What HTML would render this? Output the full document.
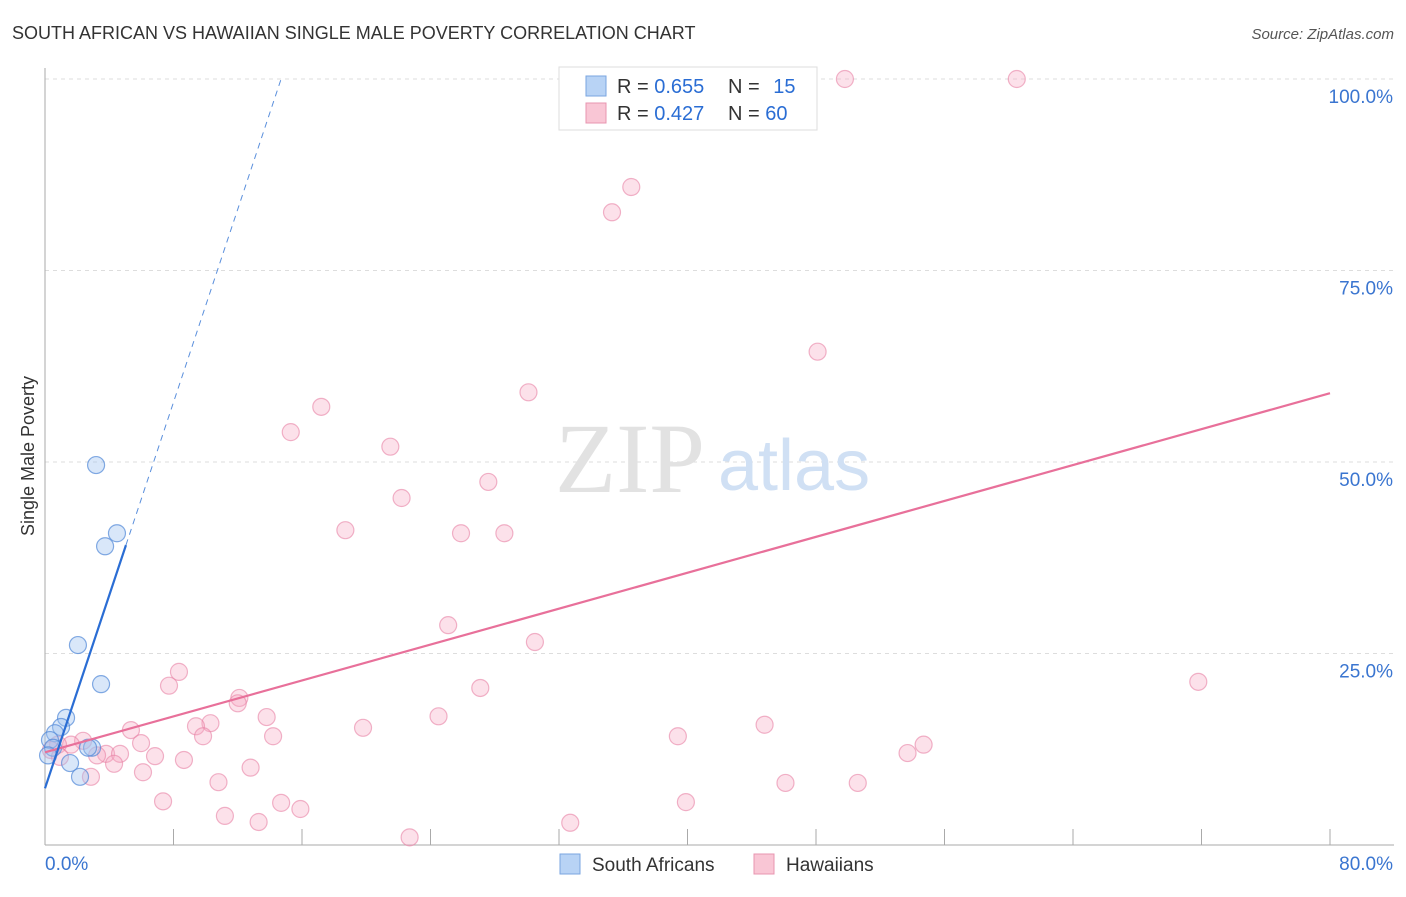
<!DOCTYPE html>
<html><head><meta charset="utf-8"><style>
body{margin:0;background:#fff;font-family:"Liberation Sans",sans-serif;}
svg text{font-family:"Liberation Sans",sans-serif;}
</style></head><body>
<svg width="1406" height="892" id="chart">
<text x="12" y="39" font-size="18" fill="#333">SOUTH AFRICAN VS HAWAIIAN SINGLE MALE POVERTY CORRELATION CHART</text>
<text x="1394" y="39" font-size="15" fill="#555" font-style="italic" text-anchor="end">Source: ZipAtlas.com</text>
<g id="grid"></g>
<text x="555" y="492" font-size="100" fill="#e2e2e2" style="font-family:'Liberation Serif',serif">ZIP</text>
<text x="718" y="490" font-size="72" fill="#d0e0f4">atlas</text>
<g id="axes"></g>
<g id="marks"></g>
<text x="34" y="456" font-size="18" fill="#333" text-anchor="middle" transform="rotate(-90 34 456)">Single Male Poverty</text>
<g>
<rect x="559" y="67" width="258" height="63" fill="#fff" stroke="#ddd"/>
<rect x="586" y="76" width="20" height="20" fill="#b8d3f5" stroke="#7aa6e0"/>
<rect x="586" y="103" width="20" height="20" fill="#f9c6d5" stroke="#e895b0"/>
<text x="617" y="93" font-size="20" fill="#333">R = <tspan fill="#2a6dd4">0.655</tspan></text>
<text x="728" y="93" font-size="20" fill="#333">N = <tspan fill="#2a6dd4" dx="8">15</tspan></text>
<text x="617" y="120" font-size="20" fill="#333">R = <tspan fill="#2a6dd4">0.427</tspan></text>
<text x="728" y="120" font-size="20" fill="#333">N = <tspan fill="#2a6dd4">60</tspan></text>
</g>
<g>
<rect x="560" y="854" width="20" height="20" fill="#b8d3f5" stroke="#7aa6e0"/>
<text x="592" y="871" font-size="19" fill="#333">South Africans</text>
<rect x="754" y="854" width="20" height="20" fill="#f9c6d5" stroke="#e895b0"/>
<text x="786" y="871" font-size="19" fill="#333">Hawaiians</text>
</g>
</svg>
<script>
const yTicks=[25,50,75,100];
const yTickLabels=["25.0%","50.0%","75.0%","100.0%"];
const xTicks=[0,8,16,24,32,40,48,56,64,72,80];
const saX=[3.18,3.74,4.48,2.05,3.49,1.31,1.0,0.62,0.31,0.5,1.56,2.18,2.93,2.68,0.19];
const saY=[49.6,39.0,40.7,26.1,21.0,16.6,15.4,14.6,13.7,12.7,10.7,8.9,12.7,12.7,11.7];
const hwX=[49.8,60.5,36.5,35.3,48.1,30.1,17.2,15.3,21.5,27.6,22.2,18.7,25.9,28.6,25.1,30.5,27.1,71.8,8.34,7.72,12.1,12.0,13.8,10.3,9.4,24.5,19.8,44.8,5.35,9.84,14.2,39.4,54.7,53.7,5.98,2.37,1.62,0.81,0.37,3.8,3.24,4.67,6.85,8.65,4.3,12.8,6.1,2.86,10.8,46.1,50.6,7.35,39.9,14.7,15.9,11.2,13.3,32.7,22.7,0.93];
const hwY=[100,100,85.9,82.6,64.4,59.1,57.2,53.9,52.0,47.4,45.3,41.1,40.7,40.7,28.7,26.5,20.5,21.3,22.6,20.8,19.2,18.5,16.7,15.9,15.5,16.8,15.3,15.7,15.0,14.2,14.2,14.2,13.1,12.0,13.3,13.6,13.1,13.1,12.4,11.9,11.7,11.9,11.6,11.1,10.6,10.1,9.5,8.9,8.2,8.1,8.1,5.7,5.6,5.5,4.7,3.8,3.0,2.9,1.0,11.5];
const saLine=[7.4,6.3];
const hwLine=[12.1,0.586];
const X0=45,X1=1330,Y0=845,Y1=79;
const sx=v=>X0+(v/80)*(X1-X0);
const sy=v=>Y0-(v/100)*(Y0-Y1);
const NS="http://www.w3.org/2000/svg";
function mk(tag,attrs,parent){const e=document.createElementNS(NS,tag);for(const k in attrs)e.setAttribute(k,attrs[k]);document.getElementById(parent).appendChild(e);return e;}
yTicks.forEach((t,i)=>{
 const l=mk('line',{x1:X0,x2:1394,y1:sy(t),y2:sy(t),stroke:'#ddd','stroke-dasharray':'4,4'},'grid');
 
 
 const tx=mk('text',{x:1393,y:sy(t)+24,'font-size':19,fill:'#3a75d0','text-anchor':'end'},'axes');
 tx.textContent=yTickLabels[i];
 
 
});
mk('line',{x1:X0,x2:X0,y1:68,y2:Y0,stroke:'#aaa'},'axes');
mk('line',{x1:X0,x2:1394,y1:Y0,y2:Y0,stroke:'#aaa'},'axes');
xTicks.forEach(t=>{
 const l=mk('line',{x1:sx(t),x2:sx(t),y1:Y0,y2:829,stroke:'#aaa'},'axes');
 
 
});
let t0=mk('text',{x:45,y:870,'font-size':19,fill:'#3a75d0'},'axes');t0.textContent="0.0%";


let t1=mk('text',{x:1393,y:870,'font-size':19,fill:'#3a75d0','text-anchor':'end'},'axes');t1.textContent="80.0%";


hwX.forEach((x,i)=>{
 const c=mk('circle',{cx:sx(x),cy:sy(hwY[i]),r:8.5,fill:'rgba(246,170,195,0.35)',stroke:'rgba(232,130,165,0.6)','stroke-width':1.2},'marks');
 
 
});
saX.forEach((x,i)=>{
 const c=mk('circle',{cx:sx(x),cy:sy(saY[i]),r:8.5,fill:'rgba(160,195,240,0.4)',stroke:'rgba(80,135,215,0.7)','stroke-width':1.2},'marks');
 
 
});
let hl=mk('line',{x1:sx(0),y1:sy(hwLine[0]),x2:sx(80),y2:sy(hwLine[0]+hwLine[1]*80),stroke:'#e8709a','stroke-width':2.2},'marks');


const saEnd=5.04, saTop=(100-saLine[0])/saLine[1];
let bl=mk('line',{x1:sx(0),y1:sy(saLine[0]),x2:sx(saEnd),y2:sy(saLine[0]+saLine[1]*saEnd),stroke:'#2a6dd4','stroke-width':2.2},'marks');


let bd=mk('line',{x1:sx(saEnd),y1:sy(saLine[0]+saLine[1]*saEnd),x2:sx(saTop),y2:sy(100),stroke:'#5a8fdc','stroke-width':1,'stroke-dasharray':'6,5'},'marks');


</script>
</body></html>
